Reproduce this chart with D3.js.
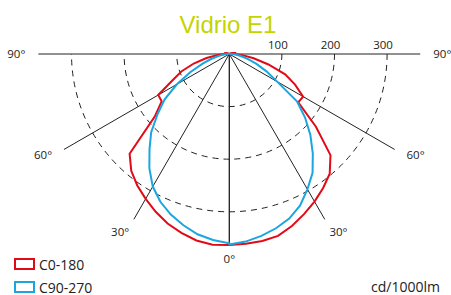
<!DOCTYPE html>
<html><head><meta charset="utf-8">
<script src="https://cdn.jsdelivr.net/npm/d3@7"></script>
<style>
html,body{margin:0;padding:0;background:#fff;}
svg{display:block;}
text{font-family:"Open Sans",sans-serif;fill:#222;}
</style></head>
<body>
<svg id="chart" width="451" height="295"></svg>
<script>
// ---- data (cd/1000lm) ----
const title = "Vidrio E1";
const unitLabel = "cd/1000lm";
const angles = [0,5,10,15,20,25,30,35,40,45,50,55,60,65,70,75,80,85,90,100,110,120,150,180];
const c0   = [363,362,361,358,348,336,324,311,297,272,215,160,162,138,113,77,47,25,10,11,6,3,0,0];
const c180 = [363,364,360,352,343,331,318,305,290,268,185,157,156,120,97,70,44,22,10,9,5,2,0,0];
const c90  = [362,358,351,343,333,318,297,276,247,218,188,157,105,78,55,36,22,12,5,3,1,0,0,0];
const c270 = [360,355,348,337,325,310,291,265,236,210,178,150,115,82,54,35,20,10,4,2,1,0,0,0];
const seriesNames = ["C0-180","C90-270"];
const seriesColors = ["#e30a17","#1ba6e0"];
const ringValues = [100,200,300];
const ringLabels = ["100","200","300"];
const spokeAngles = [0,30,60,90];
const spokeLabels = ["0°","30°","60°","90°"];
const axisMax = 363;

// ---- drawing ----
const svg = d3.select("#chart");
const cx = 229.3, cy = 54;
const r = d3.scaleLinear().domain([0,300]).range([0,157.8]);
const toRad = d => d*Math.PI/180;
const g = svg.append("g").attr("transform",`translate(${cx},${cy})`);

// title
svg.append("text").attr("x",228).attr("y",32.5).attr("text-anchor","middle")
  .style("font-family","'Liberation Sans Narrow','Liberation Sans',sans-serif")
  .style("font-size","24px").style("fill","#c4d400").text(title);

// dashed half rings
ringValues.forEach(v=>{
  const p = d3.path(); p.arc(0,0,r(v),0,Math.PI);
  g.append("path").attr("d",p.toString()).attr("fill","none")
   .attr("stroke","#222").attr("stroke-width",1).attr("stroke-dasharray","6,5");
});
// ring labels
ringValues.forEach((v,i)=>{
  g.append("text").attr("x",r(v)-4).attr("y",-5).attr("text-anchor","middle")
   .style("font-size","11.5px").text(ringLabels[i]);
});

// spokes
const R = r(axisMax);
spokeAngles.forEach(a=>{
  [-1,1].forEach(s=>{
    g.append("line").attr("x1",0).attr("y1",0)
     .attr("x2",s*R*Math.sin(toRad(a))).attr("y2",R*Math.cos(toRad(a)))
     .attr("stroke","#222").attr("stroke-width",1);
  });
});
// spoke labels
spokeAngles.forEach((a,i)=>{
  const sides = a===0?[1]:[-1,1];
  sides.forEach(s=>{
    const aa = (a===0||a===90)?a:a+1.5;
    const lr = 205 + 8*Math.sin(toRad(a));
    g.append("text")
     .attr("x",s*lr*Math.sin(toRad(aa))).attr("y",lr*Math.cos(toRad(aa)))
     .attr("text-anchor","middle").attr("dy","0.35em")
     .style("font-size","11.5px").text(spokeLabels[i]);
  });
});

// curves
const radial = d3.lineRadial().angle(d=>d[0]).radius(d=>r(d[1])).curve(d3.curveLinearClosed);
function curvePts(right,left){
  const pts = [];
  angles.forEach((a,i)=>pts.push([Math.PI - toRad(a), right[i]]));
  for(let i=angles.length-1;i>=0;i--) pts.push([Math.PI + toRad(angles[i]), left[i]]);
  return pts;
}
[[c0,c180],[c90,c270]].forEach((pair,k)=>{
  g.append("path").attr("d",radial(curvePts(pair[0],pair[1])))
   .attr("fill","none").attr("stroke",seriesColors[k]).attr("stroke-width",2)
   .attr("stroke-linejoin","miter");
});

// legend
seriesNames.forEach((n,i)=>{
  const y = 259 + i*23;
  svg.append("rect").attr("x",15).attr("y",y).attr("width",19).attr("height",10)
    .attr("fill","#fff").attr("stroke",seriesColors[i]).attr("stroke-width",2);
  svg.append("text").attr("x",39).attr("y",y+10.5).style("font-size","14px").text(n);
});
svg.append("text").attr("x",440).attr("y",291.5).attr("text-anchor","end")
  .style("font-size","14px").text(unitLabel);
</script>
</body></html>
